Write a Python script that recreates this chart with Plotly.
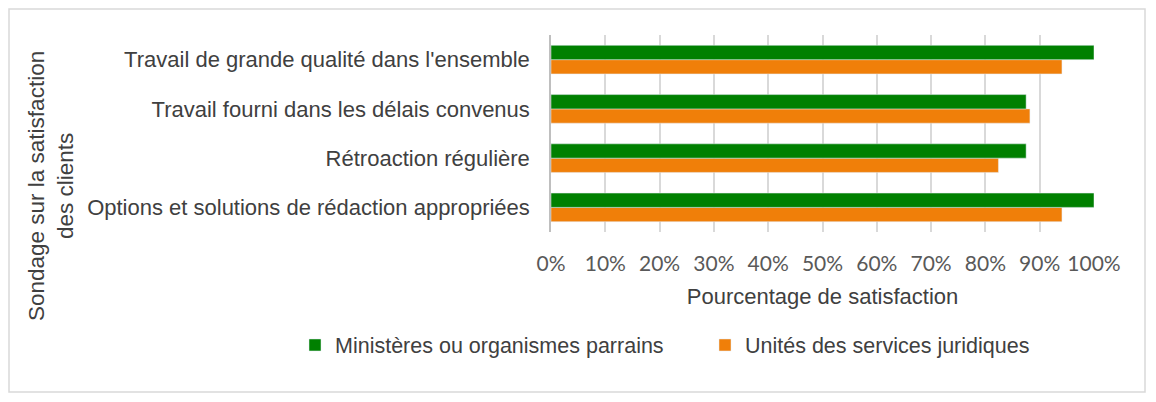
import plotly.graph_objects as go

# categories, listed bottom to top for the horizontal bar axis
categories = [
    "Options et solutions de rédaction appropriées",
    "Rétroaction régulière",
    "Travail fourni dans les délais convenus",
    "Travail de grande qualité dans l'ensemble",
]
ministeres = [100.0, 87.5, 87.5, 100.0]
unites = [94.1, 82.4, 88.2, 94.1]

series_names = ["Ministères ou organismes parrains", "Unités des services juridiques"]
tick_vals = [0, 10, 20, 30, 40, 50, 60, 70, 80, 90, 100]
tick_text = ["0%", "10%", "20%", "30%", "40%", "50%", "60%", "70%", "80%", "90%", "100%"]

GREEN = "#008000"
ORANGE = "#F07F09"

# the page body has an 8px margin, so the figure is a bit smaller than the window
OFF = 8
W, H = 1156 - 2 * OFF, 402 - 2 * OFF
L, R, T, B = 551 - OFF, W - (1094 - OFF), 35 - OFF, H - (232 - OFF)
pw, ph = W - L - R, H - T - B

def px(x):
    # page pixel -> paper x
    return (x - OFF - L) / pw

def py(y):
    # page pixel -> paper y
    return (H - B - (y - OFF)) / ph

fig = go.Figure()
# orange is drawn first so that green sits on top within each group
fig.add_trace(go.Bar(y=categories, x=unites, name=series_names[1], orientation="h",
                     marker_color=ORANGE, hoverinfo="x+y", legend="legend2"))
fig.add_trace(go.Bar(y=categories, x=ministeres, name=series_names[0], orientation="h",
                     marker_color=GREEN, hoverinfo="x+y", legend="legend"))

legend_font = dict(family="Liberation Sans, Arial", size=21.5, color="#404040")
legend_y = 1 - (345 - OFF) / H

fig.update_layout(
    width=W, height=H,
    margin=dict(l=L, r=R, t=T, b=B, autoexpand=False),
    paper_bgcolor="white", plot_bgcolor="white",
    barmode="group", bargap=0.42, bargroupgap=0,
    font=dict(family="Liberation Sans, Arial", color="#404040"),
    showlegend=True,
    legend=dict(orientation="h", xref="container", yref="container",
                x=(295 - OFF) / W, xanchor="left", y=legend_y, yanchor="middle",
                font=legend_font, itemwidth=30, bgcolor="rgba(0,0,0,0)"),
    legend2=dict(orientation="h", xref="container", yref="container",
                 x=(705 - OFF) / W, xanchor="left", y=legend_y, yanchor="middle",
                 font=legend_font, itemwidth=30, bgcolor="rgba(0,0,0,0)"),
    xaxis=dict(range=[0, 100], tickvals=tick_vals, ticktext=tick_text,
               showgrid=True, gridcolor="#D9D9D9", gridwidth=1.5,
               zeroline=False, showline=False, ticks="",
               tickfont=dict(family="Lato, Liberation Sans", size=21, color="#595959"),
               ticklabelstandoff=17,
               title=dict(text="Pourcentage de satisfaction", standoff=14,
                          font=dict(size=22, color="#404040"))),
    yaxis=dict(showgrid=False, zeroline=False, showline=True, linecolor="#BFBFBF",
               linewidth=1.5, ticks="", ticklabelstandoff=15,
               tickfont=dict(size=22, color="#404040")),
)

# rotated left-hand title, centred on the whole chart
fig.add_annotation(text="Sondage sur la satisfaction<br>des clients", textangle=-90,
                   xref="paper", yref="paper", x=px(51), y=py(186),
                   xanchor="center", yanchor="middle", showarrow=False,
                   font=dict(size=22.5, color="#404040"))

# outer chart border
fig.add_shape(type="rect", xref="paper", yref="paper",
              x0=px(OFF + 1), x1=px(1145), y0=py(392), y1=py(OFF + 1),
              line=dict(color="#D9D9D9", width=1.5), layer="below")

fig.write_html("out.html")
